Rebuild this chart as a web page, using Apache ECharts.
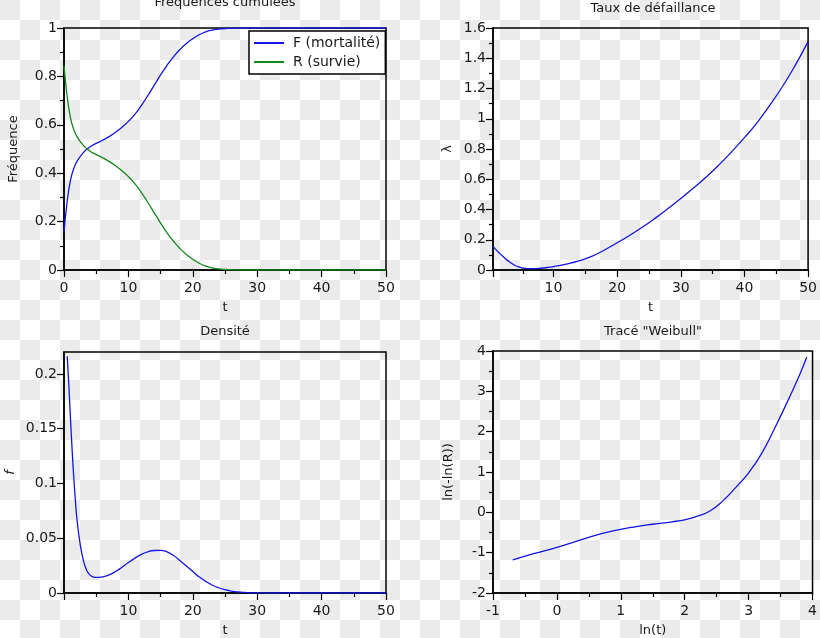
<!DOCTYPE html>
<html>
<head>
<meta charset="utf-8">
<script src="https://cdn.jsdelivr.net/npm/echarts@6/dist/echarts.min.js"></script>
<style>
html,body{margin:0;padding:0;}
body{width:820px;height:638px;overflow:hidden;
background:repeating-conic-gradient(#ffffff 0% 25%, #ebebeb 0% 50%) 0 0 / 40px 40px;}
#c{width:820px;height:638px;}
</style>
</head>
<body>
<div id="c"></div>
<script>
// ---- data ----
// Cumulative frequencies
const tCum = [0,0.5,1,1.5,2,3,4,5,6,7,8,9,10,11,12,13,14,15,16,17,18,19,20,21,22,23,24,25,26,27,28,30,35,40,45,50];
const Fmort = [0.155,0.285,0.37,0.418,0.448,0.485,0.508,0.523,0.536,0.551,0.569,0.59,0.614,0.643,0.679,0.72,0.763,0.806,0.846,0.881,0.911,0.936,0.956,0.972,0.984,0.991,0.995,0.998,0.999,1,1,1,1,1,1,1];
const Rsurv = [0.845,0.715,0.63,0.582,0.552,0.515,0.492,0.477,0.464,0.449,0.431,0.41,0.386,0.357,0.321,0.28,0.237,0.194,0.154,0.119,0.089,0.064,0.044,0.028,0.016,0.009,0.005,0.002,0.001,0,0,0,0,0,0,0];
// Failure rate
const tHaz = [0.5,1,1.5,2,2.5,3,3.5,4,4.5,5,5.5,6,7,8,9,10,12,14,16,18,20,22,24,26,28,30,32,34,36,38,40,42,44,46,48,50];
const lambda = [0.158,0.133,0.112,0.092,0.073,0.057,0.042,0.03,0.021,0.0145,0.011,0.0095,0.0092,0.0115,0.0165,0.023,0.039,0.06,0.09,0.132,0.18,0.23,0.284,0.343,0.406,0.472,0.542,0.615,0.695,0.782,0.875,0.975,1.09,1.215,1.355,1.51];
// Density
const tDens = [0.5,0.75,1,1.25,1.5,1.75,2,2.5,3,3.5,4,4.5,5,5.5,6,7,8,9,10,11,12,13,14,15,16,17,18,19,20,21,22,23,24,25,26,27,28,29,30,35,40,45,50];
const dens = [0.216,0.19,0.16,0.132,0.107,0.086,0.068,0.045,0.03,0.021,0.0165,0.0148,0.0143,0.0143,0.0147,0.0166,0.0196,0.0235,0.0278,0.0318,0.0353,0.0376,0.0388,0.039,0.0376,0.0342,0.0296,0.0246,0.0196,0.0147,0.0106,0.0073,0.0048,0.003,0.0018,0.001,0.0005,0.0002,0.0001,0,0,0,0];
// Weibull plot
const lnT = [-0.69,-0.35,0,0.3,0.6,0.9,1.2,1.5,1.8,2.0,2.2,2.4,2.6,2.8,3.0,3.2,3.4,3.6,3.8,3.91];
const lnlnR = [-1.18,-1.02,-0.87,-0.72,-0.57,-0.455,-0.365,-0.295,-0.235,-0.185,-0.095,0.04,0.29,0.62,0.98,1.45,2.06,2.72,3.42,3.85];
// tick labels
const tTicksTR = [10,20,30,40,50];
const densTicks = [0,0.05,0.1,0.15,0.2];

// ---- styles ----
const FONT = 'DejaVu Sans';
const TXT = '#1a1a1a';
const BLUE = '#1414e6';
const GREEN = '#13881a';
const pairs = (xs, ys) => xs.map((x, i) => [x, ys[i]]);

const axisLine = {show: true, onZero: false, lineStyle: {color: '#000', width: 1.5}};
const tick = {show: true, inside: false, length: 7, lineStyle: {color: '#000', width: 1.2}};
const minor = {show: true, splitNumber: 2, length: 4, lineStyle: {color: '#000', width: 1.2}};
const xLabel = {color: TXT, fontFamily: FONT, fontSize: 14, margin: 11};
const yLabel = {color: TXT, fontFamily: FONT, fontSize: 14, margin: 7};
const nameStyle = {color: TXT, fontFamily: FONT, fontSize: 13};

function xAxis(gi, o) {
  return Object.assign({type: 'value', gridIndex: gi, position: 'bottom', axisLine, axisTick: tick,
    minorTick: minor, splitLine: {show: false}, axisLabel: xLabel, nameLocation: 'middle', nameGap: 31,
    nameTextStyle: nameStyle}, o);
}
function yAxis(gi, o) {
  return Object.assign({type: 'value', gridIndex: gi, position: 'left', axisLine, axisTick: tick,
    minorTick: minor, splitLine: {show: false}, axisLabel: yLabel, nameLocation: 'middle',
    nameTextStyle: nameStyle}, o);
}
const gridStyle = {show: true, borderColor: '#000', borderWidth: 1.5, backgroundColor: 'transparent', containLabel: false};
const titleText = {color: TXT, fontFamily: FONT, fontSize: 13, fontWeight: 'normal'};
const lineSeries = (name, xi, data, color) => ({name, type: 'line', xAxisIndex: xi, yAxisIndex: xi, data,
  smooth: 0.5, symbol: 'none', showSymbol: false, lineStyle: {color, width: 1.3}, itemStyle: {color}});

const option = {
  animation: false,
  backgroundColor: 'transparent',
  title: [
    {text: 'Fréquences cumulées', left: 225, top: -4, textAlign: 'center', padding: 0, textStyle: titleText},
    {text: 'Taux de défaillance', left: 653, top: 2, textAlign: 'center', padding: 0, textStyle: titleText},
    {text: 'Densité', left: 225, top: 325, textAlign: 'center', padding: 0, textStyle: titleText},
    {text: 'Tracé "Weibull"', left: 653, top: 325, textAlign: 'center', padding: 0, textStyle: titleText}
  ],
  grid: [
    Object.assign({left: 64, top: 28, width: 322, height: 242}, gridStyle),
    Object.assign({left: 493, top: 28, width: 321, height: 242}, gridStyle),
    Object.assign({left: 64, top: 352, width: 322, height: 241}, gridStyle),
    Object.assign({left: 493, top: 351, width: 321, height: 242}, gridStyle)
  ],
  legend: {
    data: ['F (mortalité)', 'R (survie)'],
    orient: 'vertical', left: 249, top: 31,
    backgroundColor: '#fff', borderColor: '#000', borderWidth: 1.5, borderRadius: 0,
    padding: [5, 5, 5, 4], itemGap: 5, itemWidth: 30, itemHeight: 14,
    itemStyle: {opacity: 0},
    textStyle: {color: TXT, fontFamily: FONT, fontSize: 14, padding: [0, 0, 0, 4]}
  },
  xAxis: [
    xAxis(0, {min: 0, max: 50, interval: 10, name: 't'}),
    xAxis(1, {min: 0.5, max: 50, name: 't', minorTick: {show: false},
      axisTick: Object.assign({}, tick, {customValues: [0.5].concat(tTicksTR)}),
      axisLabel: Object.assign({}, xLabel, {customValues: tTicksTR})}),
    xAxis(2, {min: 0, max: 50, interval: 10, name: 't', axisLabel: Object.assign({}, xLabel, {showMinLabel: false})}),
    xAxis(3, {min: -1, max: 4, interval: 1, name: 'ln(t)'}),
    // minor ticks of the failure-rate time axis
    xAxis(1, {min: 0.5, max: 50, axisLine: {show: false}, minorTick: {show: false},
      axisLabel: {show: false},
      axisTick: Object.assign({}, tick, {length: 4, customValues: [5.25, 15, 25, 35, 45]})})
  ],
  yAxis: [
    yAxis(0, {min: 0, max: 1, interval: 0.2, name: 'Fréquence', nameGap: 44}),
    yAxis(1, {min: 0, max: 1.6, interval: 0.2, name: 'λ', nameGap: 39}),
    yAxis(2, {min: 0, max: 0.22, name: 'f', nameGap: 47, minorTick: {show: false},
      nameTextStyle: Object.assign({}, nameStyle, {fontStyle: 'italic'}),
      axisTick: Object.assign({}, tick, {customValues: densTicks}),
      axisLabel: Object.assign({}, yLabel, {customValues: densTicks})}),
    yAxis(3, {min: -2, max: 4, interval: 1, name: 'ln(-ln(R))', nameGap: 38})
  ],
  series: [
    lineSeries('F (mortalité)', 0, pairs(tCum, Fmort), BLUE),
    lineSeries('R (survie)', 0, pairs(tCum, Rsurv), GREEN),
    lineSeries('lambda', 1, pairs(tHaz, lambda), BLUE),
    lineSeries('f', 2, pairs(tDens, dens), BLUE),
    lineSeries('weibull', 3, pairs(lnT, lnlnR), BLUE)
  ]
};
const chart = echarts.init(document.getElementById('c'), null, {renderer: 'canvas'});
chart.setOption(option);
</script>
</body>
</html>
